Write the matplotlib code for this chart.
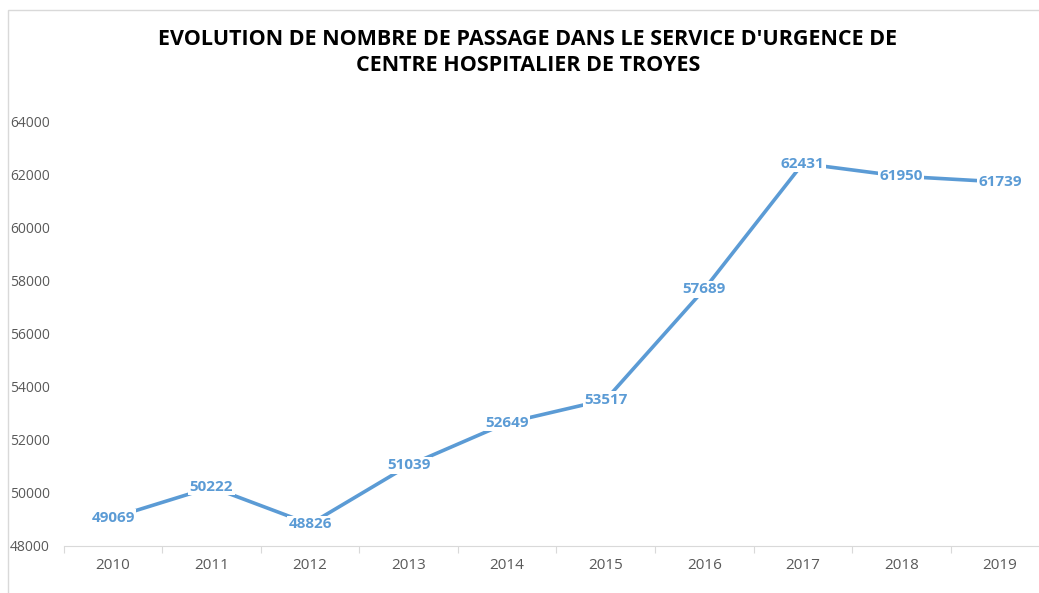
import matplotlib as mpl
mpl.use('Agg')
import matplotlib.pyplot as plt
from matplotlib.patches import Rectangle

years = ['2010', '2011', '2012', '2013', '2014', '2015', '2016', '2017', '2018', '2019']
passages = [49069, 50222, 48826, 51039, 52649, 53517, 57689, 62431, 61950, 61739]
y_ticks = [48000, 50000, 52000, 54000, 56000, 58000, 60000, 62000, 64000]

blue = '#5B9BD5'
grey = '#595959'

plt.rcParams['font.family'] = ['Open Sans', 'DejaVu Sans']

fig = plt.figure(figsize=(10.39, 5.93), dpi=100)
ax = fig.add_axes([0.0613, 0.0793, 0.9485, 0.715])

x = list(range(len(years)))
ax.plot(x, passages, color=blue, lw=2.6, solid_capstyle='butt')
for xi, v in zip(x, passages):
    ax.text(xi, v, str(v), ha='center', va='center', color=blue, fontsize=11,
            fontweight='bold',
            bbox=dict(facecolor='white', edgecolor='none', pad=1.0))

ax.set_xlim(-0.5, len(years) - 0.5)
ax.set_ylim(48000, 64000)
ax.set_yticks(y_ticks)
ax.set_yticklabels([str(t) for t in y_ticks], color=grey, fontsize=10)
ax.tick_params(axis='y', length=0, pad=10)
ax.set_xticks(x)
ax.set_xticklabels(years, color=grey, fontsize=11)
ax.tick_params(axis='x', length=0, pad=9)
# category boundary ticks
ax.set_xticks([i - 0.5 for i in range(len(years) + 1)], minor=True)
ax.tick_params(axis='x', which='minor', length=5, color='#D9D9D9', width=0.8)

for s in ['top', 'right', 'left']:
    ax.spines[s].set_visible(False)
ax.spines['bottom'].set_color('#D9D9D9')
ax.spines['bottom'].set_linewidth(0.8)

fig.text(0.508, 0.911, "EVOLUTION DE NOMBRE DE PASSAGE DANS LE SERVICE D'URGENCE DE\nCENTRE HOSPITALIER DE TROYES",
         ha='center', va='center', fontsize=15.5, fontweight='bold', color='black',
         linespacing=1.3)

fig.patches.append(Rectangle((8 / 1039, -0.1), 1.2, 1 - 10 / 593 + 0.1,
                             transform=fig.transFigure, fill=False,
                             edgecolor='#D9D9D9', lw=1.0))

fig.savefig('out.png', dpi=100)
